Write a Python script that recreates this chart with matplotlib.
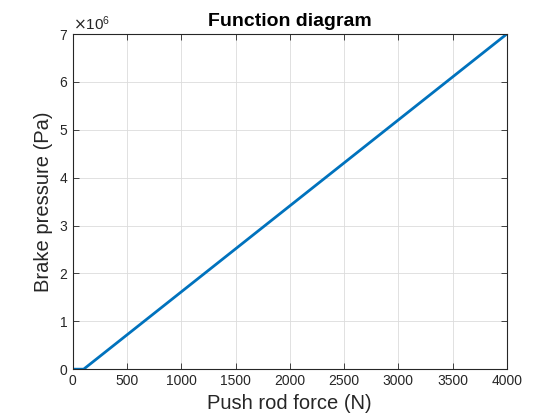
import matplotlib
matplotlib.use("Agg")
import matplotlib.pyplot as plt
from matplotlib.ticker import ScalarFormatter

plt.rcParams['font.family'] = ['Liberation Sans', 'DejaVu Sans']

# Data
force = [0, 100, 4000]          # push rod force (N)
pressure = [0, 0, 7e6]          # brake pressure (Pa)

xticks = [0, 500, 1000, 1500, 2000, 2500, 3000, 3500, 4000]
yticks = [0, 1e6, 2e6, 3e6, 4e6, 5e6, 6e6, 7e6]

fig = plt.figure(figsize=(5.6, 4.2), dpi=100)
ax = fig.add_axes([0.130, 0.121, 0.775, 0.798])

ax.plot(force, pressure, color="#0072BD", linewidth=2)

ax.set_xlim(0, 4000)
ax.set_ylim(0, 7e6)
ax.set_xticks(xticks)
ax.set_yticks(yticks)

fmt = ScalarFormatter(useMathText=True)
fmt.set_powerlimits((0, 0))
ax.yaxis.set_major_formatter(fmt)
ax.yaxis.get_offset_text().set_fontsize(11)
ax.yaxis.get_offset_text().set_color("#262626")

ax.grid(True, color="#dcdcdc", linewidth=0.6)
ax.set_axisbelow(True)
ax.tick_params(direction="in", top=True, right=True, labelsize=10,
               colors="#262626", length=4, width=0.6)
for s in ax.spines.values():
    s.set_color("#262626")
    s.set_linewidth(0.8)

ax.set_xlabel("Push rod force (N)", fontsize=14.5, color="#262626")
ax.set_ylabel("Brake pressure (Pa)", fontsize=14.5, color="#262626")
ax.set_title("Function diagram", fontsize=14, fontweight="bold", pad=6)

fig.savefig("out.png", dpi=100)
